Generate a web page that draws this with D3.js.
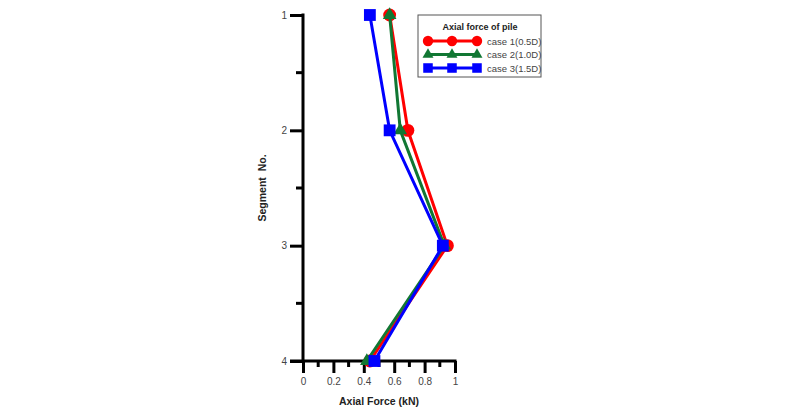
<!DOCTYPE html>
<html>
<head>
<meta charset="utf-8">
<script src="https://cdn.jsdelivr.net/npm/d3@7"></script>
<style>
  body { margin: 0; background: #fff; }
  svg { display: block; font-family: "Liberation Sans", Arial, sans-serif; }
</style>
</head>
<body>
<div id="chart"></div>
<script>
// segment numbers along the pile (y) and axial force per case (x, kN)
const segments = [1, 2, 3, 4];
const case1 = [0.57, 0.69, 0.95, 0.44];
const case2 = [0.57, 0.64, 0.93, 0.42];
const case3 = [0.44, 0.57, 0.92, 0.47];
const seriesNames = ['case 1(0.5D)', 'case 2(1.0D)', 'case 3(1.5D)'];
const xTicks = [0, 0.2, 0.4, 0.6, 0.8, 1];
const xMinorTicks = [0.1, 0.3, 0.5, 0.7, 0.9];
const yTicks = [1, 2, 3, 4];
const yMinorTicks = [1.5, 2.5, 3.5];

const width = 800, height = 413;
const svg = d3.select('#chart').append('svg')
    .attr('width', width)
    .attr('height', height);

const x = d3.scaleLinear().domain([0, 1]).range([303, 455]);
const y = d3.scaleLinear().domain([1, 4]).range([15, 361]);

// Axes
const xAxis = svg.append('g')
    .attr('transform', `translate(0,${y(4)})`)
    .call(d3.axisBottom(x).tickValues(xTicks).tickSize(12).tickSizeOuter(0).tickFormat(d3.format('')));
xAxis.select('.domain').attr('stroke-width', 3).attr('d', `M${x(0) - 13},0H${x(1) + 1.5}`);
xAxis.selectAll('.tick line').attr('stroke-width', 3);
xAxis.selectAll('.tick text')
    .attr('y', 17)
    .attr('font-size', 10)
    .attr('fill', '#444');

svg.append('g')
    .attr('transform', `translate(0,${y(4)})`)
    .selectAll('line')
    .data(xMinorTicks)
    .join('line')
    .attr('x1', d => x(d)).attr('x2', d => x(d))
    .attr('y1', 0).attr('y2', 6)
    .attr('stroke', '#000')
    .attr('stroke-width', 3);

const yAxis = svg.append('g')
    .attr('transform', `translate(${x(0)},0)`)
    .call(d3.axisLeft(y).tickValues(yTicks).tickSize(13).tickSizeOuter(0).tickFormat(d3.format('d')));
yAxis.select('.domain').attr('stroke-width', 3).attr('d', `M0,${y(1) - 1.5}V${y(4) + 1.5}`);
yAxis.selectAll('.tick line').attr('stroke-width', 3);
yAxis.selectAll('.tick text')
    .attr('x', -16)
    .attr('font-size', 10)
    .attr('fill', '#444');

svg.append('g')
    .attr('transform', `translate(${x(0)},0)`)
    .selectAll('line')
    .data(yMinorTicks)
    .join('line')
    .attr('x1', -7).attr('x2', 0)
    .attr('y1', d => y(d)).attr('y2', d => y(d))
    .attr('stroke', '#000')
    .attr('stroke-width', 3);

// Axis titles
svg.append('text')
    .attr('x', 379).attr('y', 405)
    .attr('text-anchor', 'middle')
    .attr('font-size', 10.5)
    .attr('font-weight', 'bold')
    .attr('fill', '#222')
    .text('Axial Force (kN)');

svg.append('text')
    .attr('transform', `translate(266,${y(2.5)}) rotate(-90)`)
    .attr('text-anchor', 'middle')
    .attr('font-size', 10.5)
    .attr('font-weight', 'bold')
    .attr('fill', '#222')
    .attr('xml:space', 'preserve')
    .style('white-space', 'pre')
    .text('Segment  No.');

// Series
const series = [
    { name: seriesNames[0], values: case1, color: '#ff0000', shape: d3.symbolCircle, size: 130 },
    { name: seriesNames[1], values: case2, color: '#117733', shape: d3.symbolTriangle, size: 80 },
    { name: seriesNames[2], values: case3, color: '#0000ff', shape: d3.symbolSquare, size: 140 }
];

const line = d3.line()
    .x(d => x(d.v))
    .y(d => y(d.s));

series.forEach(sr => {
    const pts = segments.map((s, i) => ({ s: s, v: sr.values[i] }));
    svg.append('path')
        .datum(pts)
        .attr('fill', 'none')
        .attr('stroke', sr.color)
        .attr('stroke-width', 3)
        .attr('d', line);
    svg.append('g')
        .selectAll('path')
        .data(pts)
        .join('path')
        .attr('transform', d => `translate(${x(d.v)},${y(d.s)})`)
        .attr('d', d3.symbol().type(sr.shape).size(sr.size))
        .attr('fill', sr.color);
});

// Legend
const legend = svg.append('g').attr('transform', 'translate(418,15)');
legend.append('rect')
    .attr('x', 0).attr('y', 0)
    .attr('width', 123).attr('height', 62)
    .attr('fill', '#fff')
    .attr('stroke', '#555')
    .attr('stroke-width', 1);
legend.append('text')
    .attr('x', 62).attr('y', 15)
    .attr('text-anchor', 'middle')
    .attr('font-size', 9)
    .attr('font-weight', 'bold')
    .attr('fill', '#222')
    .text('Axial force of pile');

const legendMarks = [10, 34, 59];
series.forEach((sr, i) => {
    const ly = 26 + i * 13.5;
    legend.append('line')
        .attr('x1', 10).attr('x2', 59)
        .attr('y1', ly).attr('y2', ly)
        .attr('stroke', sr.color)
        .attr('stroke-width', 3);
    legend.selectAll(null)
        .data(legendMarks)
        .join('path')
        .attr('transform', d => `translate(${d},${ly})`)
        .attr('d', d3.symbol().type(sr.shape).size(sr.size * 0.65))
        .attr('fill', sr.color);
    legend.append('text')
        .attr('x', 69).attr('y', ly + 3.5)
        .attr('font-size', 9.5)
        .attr('fill', '#444')
        .text(sr.name);
});
</script>
</body>
</html>
